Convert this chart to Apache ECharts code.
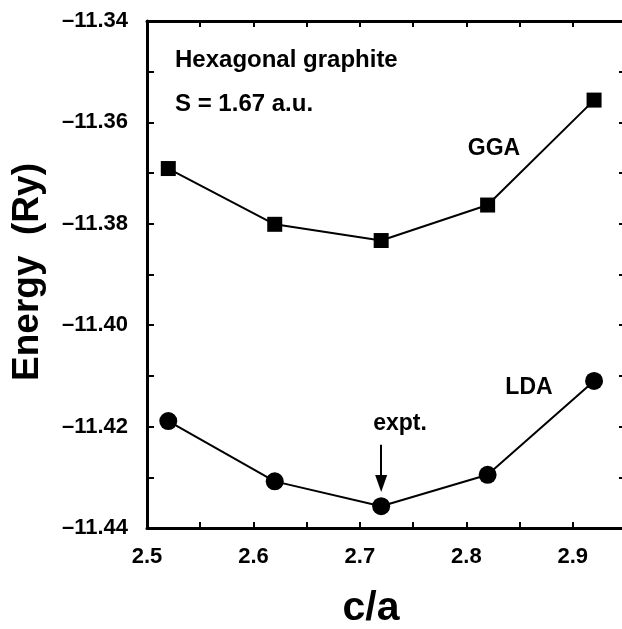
<!DOCTYPE html>
<html>
<head>
<meta charset="utf-8">
<script src="https://cdn.jsdelivr.net/npm/echarts@6/dist/echarts.min.js"></script>
<style>
  html, body { margin: 0; padding: 0; background: #fff; }
  #chart { width: 622px; height: 629px; }
</style>
</head>
<body>
<div id="chart"></div>
<script>
// c/a ratios and total energies (Ry) for hexagonal graphite
const ratios = [2.52, 2.62, 2.72, 2.82, 2.92];
const ggaEnergy = [-11.3691, -11.3801, -11.3833, -11.3763, -11.3556];
const ldaEnergy = [-11.4189, -11.4308, -11.4357, -11.4295, -11.4110];
const exptRatio = 2.72;
const exptArrow = [-11.4236, -11.4312];

const FONT = "'Liberation Sans', Arial, Helvetica, sans-serif";
const INK = '#000';

const pairs = (xs, ys) => xs.map((x, i) => [x, ys[i]]);
const dash = s => s.replace('-', '\u2013');

const frameX = (pos, showLabels) => ({
  type: 'value', position: pos, min: 2.5, max: 2.95, interval: 0.05,
  axisLine: { show: true, onZero: false, lineStyle: { color: INK, width: 3 } },
  axisTick: { show: true, inside: true, length: 6, lineStyle: { color: INK, width: 2 } },
  splitLine: { show: false },
  axisLabel: {
    show: showLabels, margin: 18, color: INK, fontFamily: FONT, fontWeight: 'bold', fontSize: 22,
    showMaxLabel: false,
    formatter: v => (Math.round(v * 100) % 10 === 0 ? v.toFixed(1) : '')
  }
});

const frameY = (pos, showLabels) => ({
  type: 'value', position: pos, min: -11.44, max: -11.34, interval: 0.01,
  axisLine: { show: true, onZero: false, lineStyle: { color: INK, width: 3 } },
  axisTick: { show: true, inside: true, length: 7, lineStyle: { color: INK, width: 2 } },
  splitLine: { show: false },
  axisLabel: {
    show: showLabels, margin: 19, color: INK, fontFamily: FONT, fontWeight: 'bold', fontSize: 22,
    formatter: v => (Math.round(Math.abs(v) * 100) % 2 === 0 ? dash(v.toFixed(2)) : '')
  }
});

const chart = echarts.init(document.getElementById('chart'), null, { renderer: 'canvas' });

const txt = (x, y, text, size, align) => ({
  type: 'text', x, y, silent: true,
  style: { text, fill: INK, font: `bold ${size}px ${FONT}`, textAlign: align || 'left', textVerticalAlign: 'middle' }
});

chart.setOption({
  animation: false,
  backgroundColor: '#fff',
  // plot frame runs slightly past the right edge of the canvas
  grid: { left: 147, width: 479, top: 21, height: 507, containLabel: false, outerBoundsMode: 'none' },
  xAxis: [frameX('bottom', true), frameX('top', false)],
  yAxis: [frameY('left', true), frameY('right', false)],
  series: [
    {
      name: 'GGA', type: 'line', data: pairs(ratios, ggaEnergy),
      symbol: 'rect', symbolSize: 15,
      lineStyle: { color: INK, width: 2 }, itemStyle: { color: INK }
    },
    {
      name: 'LDA', type: 'line', data: pairs(ratios, ldaEnergy),
      symbol: 'circle', symbolSize: 18,
      lineStyle: { color: INK, width: 2 }, itemStyle: { color: INK },
      markLine: {
        silent: true, symbol: ['none', 'triangle'], symbolSize: [12, 17],
        label: { show: false },
        lineStyle: { color: INK, width: 2, type: 'solid' },
        data: [[{ coord: [exptRatio, exptArrow[0]] }, { coord: [exptRatio, exptArrow[1]] }]]
      }
    }
  ],
  graphic: [
    txt(175, 60, 'Hexagonal graphite', 24),
    txt(175, 104, 'S = 1.67 a.u.', 24),
    txt(494, 149, 'GGA', 23, 'center'),
    txt(529, 388, 'LDA', 23, 'center'),
    txt(400, 424, 'expt.', 23, 'center'),
    txt(371, 609, 'c/a', 41, 'center'),
    {
      type: 'text', x: 28, y: 272, rotation: Math.PI / 2, silent: true,
      style: { text: 'Energy  (Ry)', fill: INK, font: `bold 37px ${FONT}`, textAlign: 'center', textVerticalAlign: 'middle' }
    }
  ]
});
</script>
</body>
</html>
